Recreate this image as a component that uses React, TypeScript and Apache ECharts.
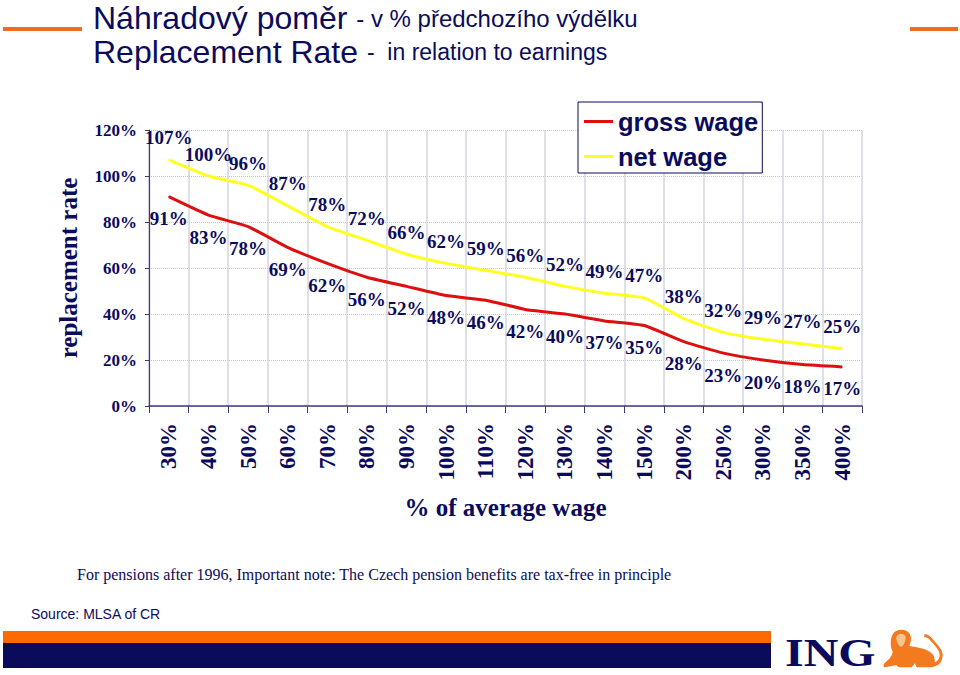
import React, { useEffect, useRef } from "react";
import * as echarts from "echarts";

const categories = ["30%", "40%", "50%", "60%", "70%", "80%", "90%", "100%", "110%", "120%", "130%", "140%", "150%", "200%", "250%", "300%", "350%", "400%"];
const grossWage = [91, 83, 78, 69, 62, 56, 52, 48, 46, 42, 40, 37, 35, 28, 23, 20, 18, 17];
const netWage = [107, 100, 96, 87, 78, 72, 66, 62, 59, 56, 52, 49, 47, 38, 32, 29, 27, 25];

const NAVY = "#0b0b5c";
const SERIF = "'Liberation Serif', serif";
const SANS = "'Liberation Sans', sans-serif";

const lionPath =
  "M70 40 C80 25 110 25 120 42 C126 55 122 70 118 78 C140 82 175 85 190 105 C197 118 195 135 190 142 L140 142 L135 130 L125 142 L85 142 L80 135 L45 142 C38 140 40 130 48 125 C58 118 68 105 68 95 C60 80 60 55 70 40 Z " +
  "M190 128 C205 125 212 112 208 98 C204 85 190 72 178 58 C172 52 168 52 162 52 L164 43 C172 42 180 48 186 55 C198 70 216 85 218 102 C220 125 205 138 190 140 Z";
const lionFace = "M80 48 C85 40 100 40 106 48 C110 58 102 78 93 80 C84 78 76 58 80 48 Z";
echarts.graphic.registerShape("lion", echarts.graphic.extendPath(lionPath, {}) as any);
echarts.graphic.registerShape("lionFace", echarts.graphic.extendPath(lionFace, {}) as any);

export default function App() {
  const ref = useRef<HTMLDivElement>(null);
  useEffect(() => {
    document.body.style.margin = "0";
    const chart = echarts.init(ref.current!, undefined, { renderer: "svg" });
    const labelFor = () => ({
      show: true,
      position: "top" as const,
      distance: 12,
      fontFamily: SERIF,
      fontWeight: "bold" as const,
      fontSize: 19,
      color: NAVY,
      formatter: "{c}%",
    });
    chart.setOption({
      animation: false,
      backgroundColor: "#ffffff",
      title: [
        {
          text: "{a|Náhradový poměr }{b|- v % předchozího výdělku}",
          left: 93,
          top: 2,
          padding: 0,
          textStyle: {
            fontWeight: "normal",
            rich: {
              a: { fontFamily: SANS, fontWeight: "normal", fontSize: 32, lineHeight: 32, color: NAVY },
              b: { fontFamily: SANS, fontWeight: "normal", fontSize: 24, lineHeight: 32, color: NAVY },
            },
          },
        },
        {
          text: "{a|Replacement Rate }{b|-  in relation to earnings}",
          left: 93,
          top: 36,
          padding: 0,
          textStyle: {
            fontWeight: "normal",
            rich: {
              a: { fontFamily: SANS, fontWeight: "normal", fontSize: 32, lineHeight: 32, color: NAVY },
              b: { fontFamily: SANS, fontWeight: "normal", fontSize: 23, lineHeight: 32, color: NAVY },
            },
          },
        },
      ],
      legend: {
        orient: "vertical",
        left: 578,
        top: 102,
        padding: [5, 4, 2, 6],
        itemGap: 6,
        itemWidth: 29,
        itemHeight: 3,
        backgroundColor: "#ffffff",
        borderColor: NAVY,
        borderWidth: 1,
        icon: "rect",
        textStyle: { fontFamily: SANS, fontWeight: "bold", fontSize: 25.5, color: NAVY, lineHeight: 29 },
        data: ["gross wage", "net wage"],
      },
      grid: { left: 149, right: 98, top: 130, bottom: 269 },
      xAxis: {
        type: "category",
        data: categories,
        boundaryGap: true,
        name: "% of average wage",
        nameLocation: "middle",
        nameGap: 89,
        nameTextStyle: { fontFamily: SERIF, fontWeight: "bold", fontSize: 25, color: NAVY },
        axisLine: { lineStyle: { color: "#3b3b78", width: 1.5 } },
        axisTick: { show: true, length: 7, alignWithLabel: false, lineStyle: { color: "#3b3b78", width: 1 } },
        axisLabel: { rotate: 90, interval: 0, margin: 17, fontFamily: SERIF, fontWeight: "bold", fontSize: 23, color: NAVY },
        splitLine: { show: true, interval: 0, lineStyle: { color: "#d4d4e0", width: 1.5 } },
      },
      yAxis: {
        type: "value",
        min: 0,
        max: 120,
        interval: 20,
        name: "replacement rate",
        nameLocation: "middle",
        nameGap: 68,
        nameTextStyle: { fontFamily: SERIF, fontWeight: "bold", fontSize: 25, color: NAVY },
        axisLine: { show: true, lineStyle: { color: "#3b3b78", width: 1.2 } },
        axisTick: { show: true, length: 4, lineStyle: { color: "#3b3b78" } },
        axisLabel: { margin: 12, fontFamily: SERIF, fontWeight: "bold", fontSize: 17, color: NAVY, formatter: "{value}%" },
        splitLine: { show: true, lineStyle: { color: "#c4c4d0", width: 1, type: "dotted" } },
      },
      series: [
        {
          name: "gross wage",
          type: "line",
          data: grossWage,
          smooth: 0.15,
          symbol: "circle",
          symbolSize: 1,
          showSymbol: true,
          itemStyle: { color: "#dd0f0f" },
          lineStyle: { color: "#dd0f0f", width: 3 },
          label: { ...labelFor(), position: "bottom" },
          z: 3,
        },
        {
          name: "net wage",
          type: "line",
          data: netWage,
          smooth: 0.15,
          symbol: "circle",
          symbolSize: 1,
          showSymbol: true,
          itemStyle: { color: "#ffff22" },
          lineStyle: { color: "#ffff22", width: 3 },
          label: labelFor(),
          z: 3,
        },
      ],
      graphic: [
        { type: "rect", shape: { x: 3, y: 27, width: 79, height: 4 }, style: { fill: "#f26a1b" }, silent: true },
        { type: "rect", shape: { x: 910, y: 27, width: 48, height: 4 }, style: { fill: "#f26a1b" }, silent: true },
        { type: "rect", shape: { x: 3, y: 631, width: 768, height: 12 }, style: { fill: "#ff6a00" }, silent: true },
        { type: "rect", shape: { x: 3, y: 643, width: 768, height: 25 }, style: { fill: NAVY }, silent: true },
        {
          type: "text",
          x: 77,
          y: 566,
          style: {
            text: "For pensions after 1996, Important note: The Czech pension benefits are tax-free in principle",
            fontFamily: SERIF,
            fontSize: 16,
            fill: NAVY,
          },
          silent: true,
        },
        {
          type: "text",
          x: 31,
          y: 607,
          style: { text: "Source: MLSA of CR", fontFamily: SANS, fontSize: 14, fill: NAVY },
          silent: true,
        },
        {
          type: "text",
          x: 785,
          y: 633,
          scaleX: 1.2,
          style: { text: "ING", fontFamily: SERIF, fontWeight: "bold", fontSize: 40, fill: NAVY },
          silent: true,
        },
        { type: "lion", x: 870, y: 620, scaleX: 1 / 3, scaleY: 1 / 3, style: { fill: "#f47a20" }, silent: true },
        { type: "lionFace", x: 870, y: 620, scaleX: 1 / 3, scaleY: 1 / 3, style: { fill: "#f9c48e" }, silent: true },
      ],
    });
    return () => chart.dispose();
  }, []);
  return <div ref={ref} style={{ width: 960, height: 675 }} />;
}
